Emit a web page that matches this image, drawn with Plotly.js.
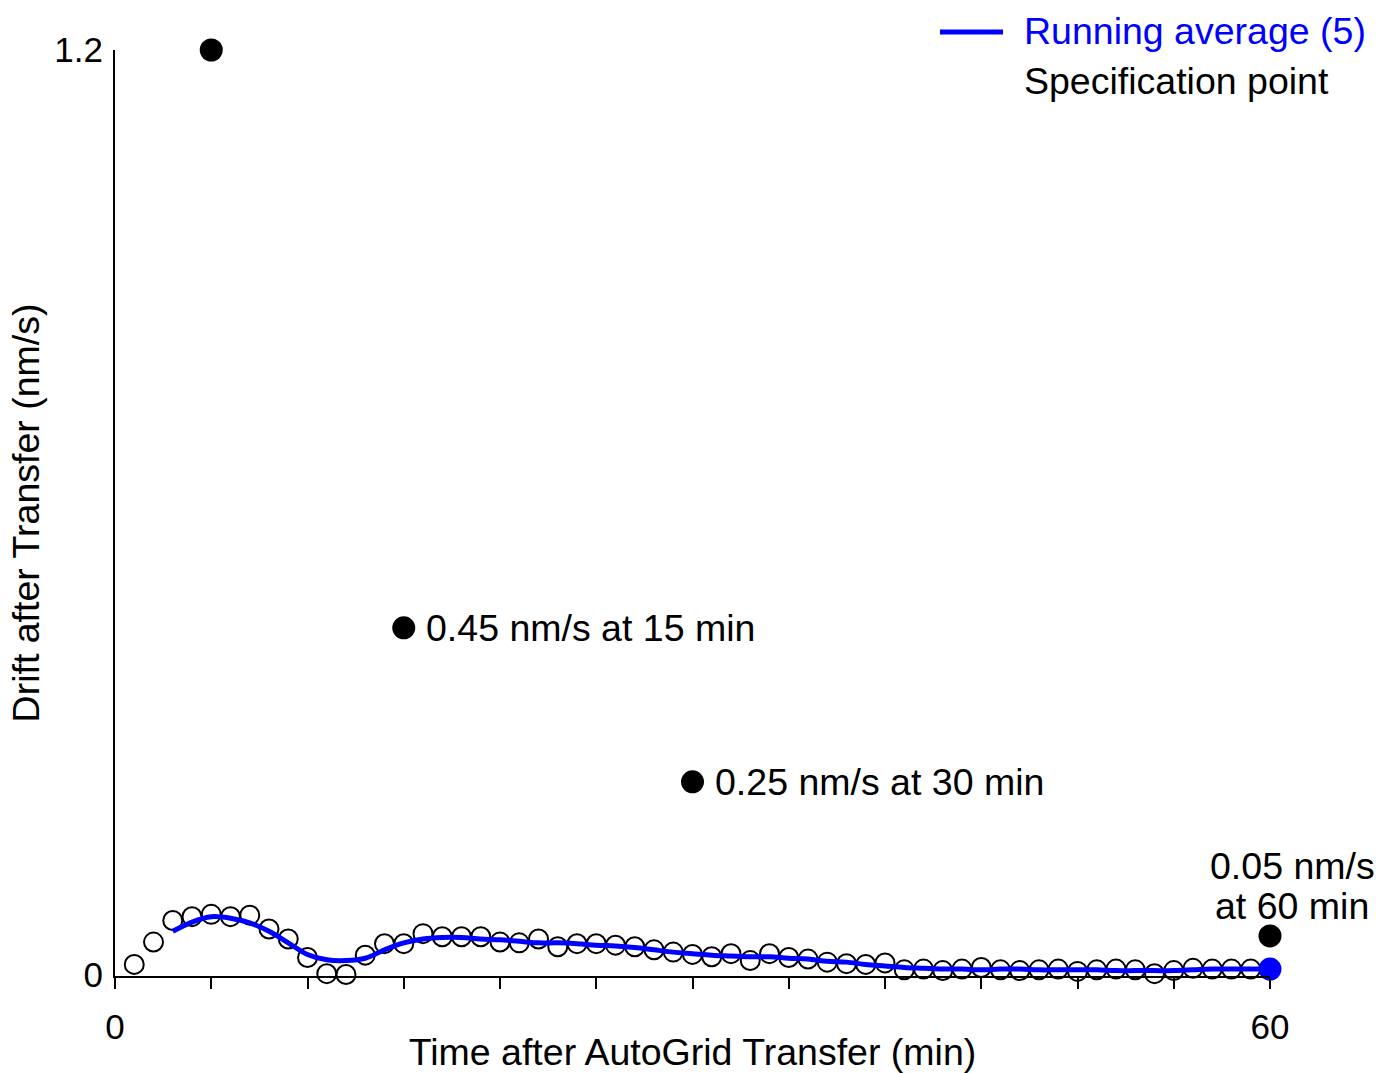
<!DOCTYPE html>
<html>
<head>
<meta charset="utf-8">
<script src="https://cdn.plot.ly/plotly-3.0.1.min.js"></script>
<style>html,body{margin:0;padding:0;background:#fff;}</style>
</head>
<body>
<div id="chart" style="width:1376px;height:1073px;"></div>
<script>
// Measured drift (nm/s), one value per minute
const minutes = [1,2,3,4,5,6,7,8,9,10,11,12,13,14,15,16,17,18,19,20,21,22,23,24,25,26,27,28,29,30,31,32,33,34,35,36,37,38,39,40,41,42,43,44,45,46,47,48,49,50,51,52,53,54,55,56,57,58,59,60,61,62];
const drift = [0.013,0.042,0.070,0.075,0.078,0.075,0.077,0.059,0.046,0.022,0.001,0.000,0.025,0.040,0.040,0.053,0.049,0.049,0.049,0.042,0.041,0.046,0.036,0.040,0.040,0.038,0.036,0.032,0.029,0.026,0.023,0.027,0.018,0.027,0.022,0.020,0.016,0.014,0.013,0.015,0.006,0.007,0.005,0.007,0.009,0.006,0.005,0.006,0.007,0.004,0.006,0.007,0.006,0.001,0.005,0.008,0.007,0.007,0.007,0.006,0.007,0.006];

// Running average (5)
const avgMinutes = [3,4,5,6,7,8,9,10,11,12,13,14,15,16,17,18,19,20,21,22,23,24,25,26,27,28,29,30,31,32,33,34,35,36,37,38,39,40,41,42,43,44,45,46,47,48,49,50,51,52,53,54,55,56,57,58,59,60];
const runningAvg = [0.056,0.068,0.075,0.073,0.067,0.056,0.041,0.026,0.019,0.018,0.021,0.032,0.041,0.046,0.048,0.048,0.046,0.045,0.043,0.041,0.041,0.040,0.038,0.037,0.035,0.032,0.029,0.027,0.025,0.024,0.023,0.023,0.021,0.020,0.017,0.016,0.013,0.011,0.009,0.008,0.007,0.007,0.006,0.007,0.007,0.006,0.006,0.006,0.006,0.005,0.005,0.005,0.005,0.006,0.007,0.007,0.007,0.007];

// Specification points
const specMinutes = [5,15,30,60];
const specDrift = [1.2,0.45,0.25,0.05];
const specLabels = ["", "0.45 nm/s at 15 min", "0.25 nm/s at 30 min", "0.05 nm/s<br>at 60 min"];

// Axis ticks
const xTickVals = [0,5,10,15,20,25,30,35,40,45,50,55,60];
const xTickText = ["0","","","","","","","","","","","","60"];
const yTickVals = [0,1.2];
const yTickText = ["0","1.2"];

const FONT = "Liberation Sans, Arial, Helvetica, sans-serif";
const FS = 37.5;

const traces = [
  {
    x: minutes, y: drift, type: "scatter", mode: "markers", cliponaxis: false,
    marker: {symbol: "circle-open", size: 19, color: "#000", line: {width: 2, color: "#000"}},
    showlegend: false, hoverinfo: "x+y"
  },
  {
    x: avgMinutes, y: runningAvg, type: "scatter", mode: "lines", cliponaxis: false,
    line: {color: "#0000ff", width: 5, shape: "spline", smoothing: 1},
    showlegend: false
  },
  {
    x: avgMinutes.slice(-1), y: runningAvg.slice(-1), type: "scatter", mode: "markers", cliponaxis: false,
    marker: {color: "#0000ff", size: 23},
    showlegend: false
  },
  {
    x: specMinutes, y: specDrift, type: "scatter", mode: "markers", cliponaxis: false,
    marker: {color: "#000", size: 23},
    showlegend: false
  }
];

const annotations = [];
for (let i = 0; i < specMinutes.length; i++) {
  if (!specLabels[i]) continue;
  const lines = specLabels[i].split("<br>");
  if (lines.length > 1) {
    // stacked label above the point, 40px line spacing
    lines.forEach((ln, k) => {
      annotations.push({x: specMinutes[i], y: specDrift[i], xref: "x", yref: "y", text: ln,
        showarrow: false, xanchor: "center", yanchor: "middle", xshift: 22,
        yshift: 30 + 40 * (lines.length - 1 - k),
        font: {family: FONT, size: FS, color: "#000"}});
    });
  } else {
    annotations.push({x: specMinutes[i], y: specDrift[i], xref: "x", yref: "y", text: specLabels[i],
      showarrow: false, xanchor: "left", yanchor: "middle", xshift: 20,
      font: {family: FONT, size: FS, color: "#000"}});
  }
}
// Legend (drawn as text + sample line)
annotations.push({x: 1022, y: 31, xref: "paper", yref: "paper", text: "Running average (5)", showarrow: false,
  xanchor: "left", yanchor: "middle", font: {family: FONT, size: FS, color: "#0000ff"}});
annotations.push({x: 1022, y: 81, xref: "paper", yref: "paper", text: "Specification point", showarrow: false,
  xanchor: "left", yanchor: "middle", font: {family: FONT, size: FS, color: "#000"}});

const W = 1376, H = 1073, ML = 115, MR = 106, MT = 50, MB = 97;
const pw = W - ML - MR, ph = H - MT - MB;
// convert pixel legend positions into paper coords
for (const a of annotations) {
  if (a.xref === "paper") {
    a.x = (a.x - ML) / pw;
    a.y = 1 - (a.y - MT) / ph;
  }
}

const layout = {
  width: W, height: H,
  margin: {l: ML, r: MR, t: MT, b: MB, pad: 0},
  paper_bgcolor: "#fff", plot_bgcolor: "#fff",
  font: {family: FONT, size: FS, color: "#000"},
  showlegend: false,
  xaxis: {
    range: [0, 60], showgrid: false, zeroline: false,
    showline: true, linecolor: "#000", linewidth: 2,
    ticks: "outside", ticklen: 11, tickwidth: 2, tickcolor: "#000",
    tickmode: "array", tickvals: xTickVals, ticktext: xTickText,
    ticklabelstandoff: 8,
    tickfont: {family: FONT, size: 35, color: "#000"},
    title: {text: "Time after AutoGrid Transfer (min)", font: {family: FONT, size: FS, color: "#000"}, standoff: 25},
    automargin: false
  },
  yaxis: {
    range: [-0.002, 1.2], showgrid: false, zeroline: false,
    showline: true, linecolor: "#000", linewidth: 2,
    ticks: "",
    tickmode: "array", tickvals: yTickVals, ticktext: yTickText,
    ticklabelstandoff: 3,
    tickfont: {family: FONT, size: 35, color: "#000"},
    title: {text: "Drift after Transfer (nm/s)", font: {family: FONT, size: FS, color: "#000"}, standoff: 3},
    automargin: false
  },
  shapes: [
    {type: "line", xref: "paper", yref: "paper",
     x0: (940 - ML) / pw, x1: (1003 - ML) / pw, y0: 1 - (32 - MT) / ph, y1: 1 - (32 - MT) / ph,
     line: {color: "#0000ff", width: 5}}
  ],
  annotations: annotations
};

Plotly.newPlot("chart", traces, layout, {displayModeBar: false, staticPlot: true});
</script>
</body>
</html>
